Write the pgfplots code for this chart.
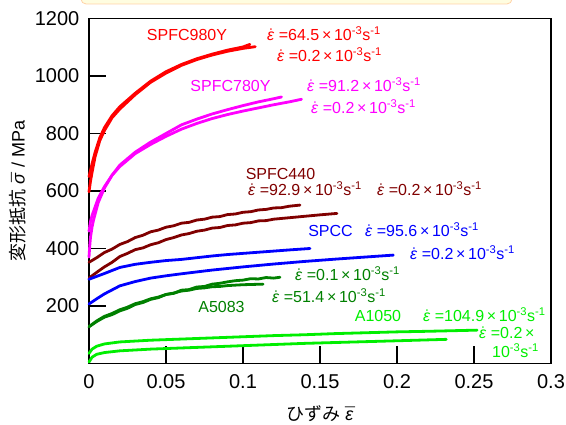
\documentclass[border=0pt]{standalone}
\usepackage{pgfplots}
\pgfplotsset{compat=1.18}
\usepackage{fontspec}
\setmainfont{Liberation Sans}
\newfontfamily\jp{Noto Sans CJK JP}
\definecolor{cred}{HTML}{FF0000}
\definecolor{cmag}{HTML}{FF00FF}
\definecolor{cbrown}{HTML}{800000}
\definecolor{cblue}{HTML}{0000FF}
\definecolor{cdgreen}{HTML}{008000}
\definecolor{clime}{HTML}{00EE00}
\newcommand{\edot}{{\ooalign{\textit{ε}\cr\hidewidth\kern0.12em˙\hidewidth\cr}}}
\newcommand{\ebar}{{\ooalign{\textit{ε}\cr\hidewidth\kern0.08em¯\hidewidth\cr}}}
\newcommand{\sbar}{{\ooalign{\textit{σ}\cr\hidewidth\kern0.08em¯\hidewidth\cr}}}
\newcommand{\rate}[1]{\edot\ =#1\,×\,10\textsuperscript{-3}s\textsuperscript{-1}}
\begin{document}
\begin{tikzpicture}[x=1pt,y=1pt]
\useasboundingbox (0,0) rectangle (566,425);
\draw[draw=orange!35, fill=yellow!12, rounded corners=5pt, line width=0.8pt] (81,421) rectangle (512,445);
\begin{axis}[at={(89pt,61.5pt)}, anchor=south west, scale only axis,
  width=462pt, height=345pt,
  xmin=0, xmax=0.3, ymin=0, ymax=1200,
  xtick={0,0.05,0.1,0.15,0.2,0.25,0.3},
  xticklabels={0,0.05,0.1,0.15,0.2,0.25,0.3},
  ytick={200,400,600,800,1000,1200},
  tick align=inside, tick pos=left, major tick length=17pt,
  axis line style={line width=1.3pt},
  tick style={line width=1.1pt, black},
  ticklabel style={font=\fontsize{20}{24}\selectfont},
  /pgf/number format/assume math mode=true,
  /pgf/number format/1000 sep={},
  yticklabel style={anchor=east, inner sep=0pt, xshift=-9.5pt},
  xticklabel style={anchor=north, inner sep=0pt, yshift=-11pt},
  xlabel={{\jp ひずみ}\ \ebar},
  ylabel={{\jp 変形抵抗}\ \sbar\ / MPa},
  xlabel style={at={(axis description cs:0.5,-0.146)}, anchor=center, font=\fontsize{18}{20}\selectfont},
  ylabel style={at={(axis description cs:-0.154,0.5)}, anchor=center, font=\fontsize{18}{20}\selectfont},
  every axis plot/.append style={line width=2.8pt, line join=round, line cap=round, mark=none},
  clip=false]
% SPFC980Y
\addplot[cred] coordinates {(0,650)(0.001,672)(0.002,695)(0.004,735)(0.007,785)(0.01,820)(0.015,862)(0.02,893)(0.03,940)(0.04,982)(0.05,1015)(0.06,1040)(0.07,1060)(0.08,1076)(0.09,1090)(0.1,1101)(0.1045,1110)};
\addplot[cred] coordinates {(0,597)(0.001,635)(0.002,665)(0.004,720)(0.007,775)(0.01,810)(0.015,855)(0.02,885)(0.03,935)(0.04,978)(0.05,1010)(0.06,1037)(0.07,1057)(0.08,1073)(0.09,1086)(0.1,1096)(0.108,1102)};
% SPFC780Y
\addplot[cmag] coordinates {(0,370)(0.0005,410)(0.001,440)(0.002,475)(0.003,500)(0.006,560)(0.01,610)(0.015,655)(0.02,690)(0.03,735)(0.04,770)(0.05,800)(0.06,830)(0.07,850)(0.08,868)(0.09,883)(0.1,897)(0.11,910)(0.12,921)(0.125,927)};
\addplot[cmag] coordinates {(0,460)(0.001,495)(0.002,515)(0.003,530)(0.006,575)(0.01,615)(0.015,655)(0.02,685)(0.03,730)(0.04,762)(0.05,790)(0.06,815)(0.07,835)(0.08,852)(0.09,866)(0.1,878)(0.11,889)(0.12,900)(0.13,910)(0.138,919)};
% SPFC440
\addplot[cbrown] coordinates {(0,352)(0.005,368)(0.01,386)(0.015,398)(0.02,414)(0.025,424)(0.03,438)(0.035,446)(0.04,458)(0.045,464)(0.05,474)(0.055,479)(0.06,488)(0.065,491)(0.07,499)(0.075,502)(0.08,509)(0.085,511)(0.09,518)(0.095,520)(0.1,526)(0.105,528)(0.11,534)(0.115,536)(0.12,541)(0.125,542)(0.13,547)(0.137,551)};
\addplot[cbrown] coordinates {(0,297)(0.005,317)(0.01,336)(0.015,352)(0.02,372)(0.025,383)(0.03,396)(0.035,402)(0.04,413)(0.045,420)(0.05,431)(0.055,438)(0.06,447)(0.065,452)(0.07,460)(0.075,464)(0.08,471)(0.085,473)(0.09,480)(0.095,482)(0.1,488)(0.105,490)(0.11,496)(0.115,497)(0.12,502)(0.13,507)(0.14,512)(0.15,517)(0.161,522)};
% SPCC
\addplot[cblue] coordinates {(0,293)(0.005,303)(0.01,313)(0.02,334)(0.03,345)(0.04,352)(0.05,358)(0.06,362)(0.07,368)(0.08,374)(0.09,379)(0.1,383)(0.11,387)(0.12,391)(0.13,395)(0.1435,400)};
\addplot[cblue] coordinates {(0,207)(0.005,225)(0.01,242)(0.02,270)(0.03,285)(0.04,297)(0.05,305)(0.06,312)(0.08,325)(0.1,336)(0.12,346)(0.14,355)(0.16,363)(0.176,369)(0.1976,377)};
% A5083
\addplot[cdgreen] coordinates {(0,128)(0.005,146)(0.01,161)(0.015,170)(0.02,183)(0.025,192)(0.03,205)(0.035,212)(0.04,223)(0.045,229)(0.05,240)(0.055,244)(0.06,255)(0.065,257)(0.07,266)(0.075,268)(0.08,276)(0.085,279)(0.09,284)(0.095,288)(0.1,290)(0.105,295)(0.11,294)(0.115,299)(0.12,297)(0.124,300)};
\addplot[cdgreen] coordinates {(0,128)(0.005,148)(0.01,164)(0.015,174)(0.02,187)(0.025,196)(0.03,208)(0.035,215)(0.04,225)(0.045,231)(0.05,240)(0.055,245)(0.06,252)(0.065,255)(0.07,261)(0.075,263)(0.08,267)(0.085,268)(0.09,271)(0.1,274)(0.113,276)};
% A1050
\addplot[clime] coordinates {(0,35)(0.002,50)(0.005,60)(0.01,68)(0.02,75)(0.04,81)(0.06,85)(0.08,89)(0.1,93)(0.12,97)(0.14,100)(0.16,104)(0.18,107)(0.2,110)(0.22,112)(0.252,116)};
\addplot[clime] coordinates {(0,5)(0.002,22)(0.005,32)(0.01,38)(0.02,44)(0.04,50)(0.06,54)(0.08,58)(0.1,62)(0.12,66)(0.14,70)(0.16,73)(0.18,76)(0.2,79)(0.232,84)};
\end{axis}
\begin{scope}[every node/.style={inner sep=0pt, font=\fontsize{16}{18}\selectfont}]
\node[cred, anchor=base] at (187,384.5) {SPFC980Y};
\node[cred, anchor=base west] at (267,384.5) {\rate{64.5}};
\node[cred, anchor=base west] at (277,363.2) {\rate{0.2}};
\node[cmag, anchor=base] at (230.5,333.2) {SPFC780Y};
\node[cmag, anchor=base west] at (307,333.2) {\rate{91.2}};
\node[cmag, anchor=base west] at (311,311.2) {\rate{0.2}};
\node[cbrown, anchor=base] at (280.5,245.2) {SPFC440};
\node[cbrown, anchor=base west] at (248,229.2) {\rate{92.9}};
\node[cbrown, anchor=base west] at (377,229.2) {\rate{0.2}};
\node[cblue, anchor=base] at (330.5,188.2) {SPCC};
\node[cblue, anchor=base west] at (365,188.2) {\rate{95.6}};
\node[cblue, anchor=base west] at (410,165.2) {\rate{0.2}};
\node[cdgreen, anchor=base west] at (295,144.2) {\rate{0.1}};
\node[cdgreen, anchor=base west] at (272,122.2) {\rate{51.4}};
\node[cdgreen, anchor=base] at (221.5,112.5) {A5083};
\node[clime, anchor=base] at (378,103.2) {A1050};
\node[clime, anchor=base west] at (423,103.2) {\rate{104.9}};
\node[clime, anchor=base west] at (479,86.2) {\edot\ =0.2\,×};
\node[clime, anchor=base west] at (492,67.2) {10\textsuperscript{-3}s\textsuperscript{-1}};
\end{scope}
\end{tikzpicture}
\end{document}
